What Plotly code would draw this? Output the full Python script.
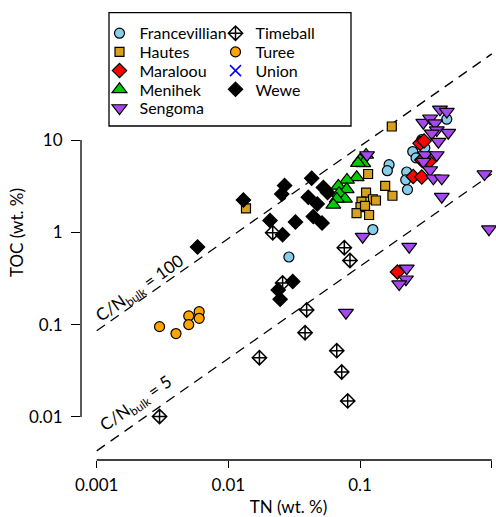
import plotly.graph_objects as go

# ---------------- data (TN, TOC in wt. %) ----------------
series_names = ["Francevillian", "Hautes", "Maraloou", "Menihek", "Sengoma",
                "Timeball", "Turee", "Union", "Wewe"]

francevillian_tn = [0.455, 0.294, 0.251, 0.266, 0.166, 0.161, 0.226, 0.222, 0.229, 0.125, 0.0288, 0.31]
francevillian_toc = [16.8, 10.1, 7.5, 6.4, 5.4, 4.65, 4.5, 3.7, 2.9, 1.07, 0.54, 8.2]

hautes_tn = [0.0136, 0.174, 0.115, 0.155, 0.176, 0.111, 0.125, 0.132, 0.1025, 0.1007, 0.094, 0.117, 0.109]
hautes_toc = [1.82, 14.0, 4.28, 3.18, 2.49, 2.69, 2.28, 2.21, 2.15, 1.87, 1.61, 1.54, 1.93]

maraloou_tn = [0.285, 0.306, 0.294, 0.334, 0.253, 0.294, 0.192]
maraloou_toc = [9.2, 9.75, 6.07, 5.82, 4.02, 3.97, 0.371]

menihek_tn = [0.111, 0.0998, 0.1057, 0.0964, 0.0942, 0.0795, 0.0683, 0.0791, 0.0692, 0.0768, 0.0665, 0.0626]
menihek_toc = [6.88, 6.07, 5.59, 5.63, 3.94, 3.69, 3.18, 2.92, 2.65, 2.30, 2.30, 1.98]

sengoma_tn = [0.404, 0.455, 0.302, 0.340, 0.371, 0.382, 0.467, 0.350, 0.393, 0.311, 0.382, 0.302,
              0.340, 0.360, 0.417, 0.417, 0.880, 0.952, 0.236, 0.226, 0.223, 0.198, 0.0781, 0.113, 0.1046]
sengoma_toc = [21.5, 20.3, 15.4, 17.2, 15.2, 12.8, 12.0, 11.8, 9.58, 6.88, 6.88, 5.82,
               4.73, 3.85, 3.85, 2.43, 4.28, 1.08, 0.698, 0.407, 0.310, 0.275, 0.1345, 6.88, 0.896]

timeball_tn = [0.003, 0.0172, 0.0217, 0.0258, 0.0382, 0.0393, 0.0665, 0.0725, 0.0759, 0.0805, 0.0838]
timeball_toc = [0.0101, 0.0438, 0.990, 0.282, 0.0817, 0.144, 0.0522, 0.0307, 0.681, 0.0149, 0.495]

turee_tn = [0.0030, 0.0040, 0.0050, 0.0050, 0.0060, 0.0060]
turee_toc = [0.095, 0.080, 0.124, 0.100, 0.138, 0.117]

# Union: listed in the legend but no samples plotted (missing values)
union_tn = [None]
union_toc = [None]

wewe_tn = [0.00583, 0.0130, 0.0207, 0.0258, 0.0254, 0.0267, 0.0323, 0.0404, 0.0429, 0.0441,
           0.0473, 0.0514, 0.0526, 0.0566, 0.0308, 0.0239, 0.0247]
wewe_toc = [0.693, 2.24, 1.34, 0.942, 2.60, 3.21, 1.29, 2.39, 3.85, 1.48, 2.03, 1.26, 3.06, 2.70,
            0.293, 0.237, 0.188]

# reference C/N (molar) lines
cn_ratios = [100, 5]
cn_tn_ends = [0.001, 1]

x_tickvals = [0.001, 0.01, 0.1, 1]
x_ticktext = ["0.001", "0.01", "0.1", "1"]
y_tickvals = [0.01, 0.1, 1, 10]
y_ticktext = ["0.01", "0.1", "1", "10"]

# legend rows (R legend fills column-wise; one plotly legend per row)
legend_rows = [["Francevillian", "Timeball"], ["Hautes", "Turee"], ["Maraloou", "Union"],
               ["Menihek", "Wewe"], ["Sengoma"]]

# ---------------- styles ----------------
FONT = "Lato"
styles = {
    "Francevillian": dict(symbol="circle", size=10, color="#87CEEB", line=dict(color="black", width=1.2)),
    "Hautes": dict(symbol="square", size=9, color="#D9A020", line=dict(color="black", width=1.2)),
    "Maraloou": dict(symbol="diamond", size=11, color="#FF0000", line=dict(color="black", width=1.2)),
    "Menihek": dict(symbol="triangle-up", size=13, color="#00CD00", line=dict(color="black", width=1.2)),
    "Sengoma": dict(symbol="triangle-down", size=13, color="#A648EE", line=dict(color="black", width=1.2)),
    "Timeball": dict(symbol="diamond-cross-open", size=11, color="black", line=dict(color="black", width=1.5)),
    "Turee": dict(symbol="circle", size=10, color="#FFA500", line=dict(color="black", width=1.2)),
    "Union": dict(symbol="x-thin-open", size=11, color="#0000FF", line=dict(color="#0000FF", width=1.5)),
    "Wewe": dict(symbol="diamond", size=11, color="black", line=dict(color="black", width=1.2)),
}
data = {
    "Francevillian": (francevillian_tn, francevillian_toc),
    "Hautes": (hautes_tn, hautes_toc),
    "Maraloou": (maraloou_tn, maraloou_toc),
    "Menihek": (menihek_tn, menihek_toc),
    "Sengoma": (sengoma_tn, sengoma_toc),
    "Timeball": (timeball_tn, timeball_toc),
    "Turee": (turee_tn, turee_toc),
    "Union": (union_tn, union_toc),
    "Wewe": (wewe_tn, wewe_toc),
}

# plot area geometry (pixels): left 81, right 496, top 5, bottom 460
W, H = 496, 517
L, R, T, B = 81, 0, 5, 57
PW, PH = W - L - R, H - T - B


def px_x(p):
    return (p - L) / PW


def px_y(p):
    return (H - B - p) / PH


row_of = {n: i for i, row in enumerate(legend_rows) for n in row}
legend_ids = ["legend"] + ["legend%d" % (i + 1) for i in range(1, len(legend_rows))]

fig = go.Figure()

for cn in cn_ratios:
    fig.add_trace(go.Scatter(
        x=cn_tn_ends, y=[cn * t * 12 / 14 for t in cn_tn_ends], mode="lines",
        line=dict(color="black", width=1.3, dash="10px,7px"), showlegend=False, hoverinfo="skip"))

for name in series_names:
    tn, toc = data[name]
    fig.add_trace(go.Scatter(
        x=tn, y=toc, mode="markers", name=name, marker=styles[name], showlegend=True,
        legend=legend_ids[row_of[name]], cliponaxis=True))

row_y = [33.3, 52.0, 70.7, 89.4, 108.1]
legend_layout = {}
for i, lid in enumerate(legend_ids):
    legend_layout[lid] = dict(
        x=px_x(99.5), y=px_y(row_y[i]), xanchor="left", yanchor="middle",
        orientation="h", entrywidth=71, entrywidthmode="pixels",
        bgcolor="rgba(0,0,0,0)", borderwidth=0, font=dict(family=FONT, size=16),
        traceorder="normal")

fig.update_layout(
    width=W, height=H, margin=dict(l=L, r=R, t=T, b=B, autoexpand=False),
    paper_bgcolor="white", plot_bgcolor="white",
    font=dict(family=FONT, size=17, color="black"),
    xaxis=dict(type="log", range=[-3.1192, 0.0319], tickvals=x_tickvals, ticktext=x_ticktext,
               ticks="outside", ticklen=7, tickwidth=1.3, tickcolor="black", automargin=False,
               ticklabelstandoff=3,
               showgrid=False, zeroline=False, showline=False,
               title=dict(text="TN (wt. %)", standoff=9, font=dict(size=17))),
    yaxis=dict(type="log", range=[-2.467, 2.4626], tickvals=y_tickvals, ticktext=y_ticktext,
               ticks="outside", ticklen=9, tickwidth=1.3, tickcolor="black", automargin=False,
               ticklabelstandoff=5,
               showgrid=False, zeroline=False, showline=False,
               title=dict(text="TOC (wt. %)", standoff=1, font=dict(size=17))),
    showlegend=True,
    **legend_layout,
)

# axis lines spanning tick range only (R style)
fig.add_shape(type="line", xref="x", yref="paper", x0=0.001, x1=1, y0=0, y1=0,
              line=dict(color="black", width=1.3))
fig.add_shape(type="line", xref="paper", yref="y", x0=0, x1=0, y0=0.01, y1=10,
              line=dict(color="black", width=1.3))
# legend box
fig.add_shape(type="rect", xref="paper", yref="paper",
              x0=px_x(109), x1=px_x(351), y0=px_y(126), y1=px_y(12.7),
              line=dict(color="black", width=1.3), fillcolor="rgba(0,0,0,0)")

# C/N labels (annotation positions on log axes are in log10 units)
fig.add_annotation(text="C/N<sub>bulk</sub> = 100", x=-2.671, y=-0.614, xref="x", yref="y",
                   showarrow=False, textangle=-35, font=dict(family=FONT, size=17))
fig.add_annotation(text="C/N<sub>bulk</sub> = 5", x=-2.70, y=-1.86, xref="x", yref="y",
                   showarrow=False, textangle=-35, font=dict(family=FONT, size=17))

# remove the page's default body margin so the figure sits at the window origin
fig.write_html("out.html", post_script="document.body.style.margin='0';",
               config={"displayModeBar": False})
